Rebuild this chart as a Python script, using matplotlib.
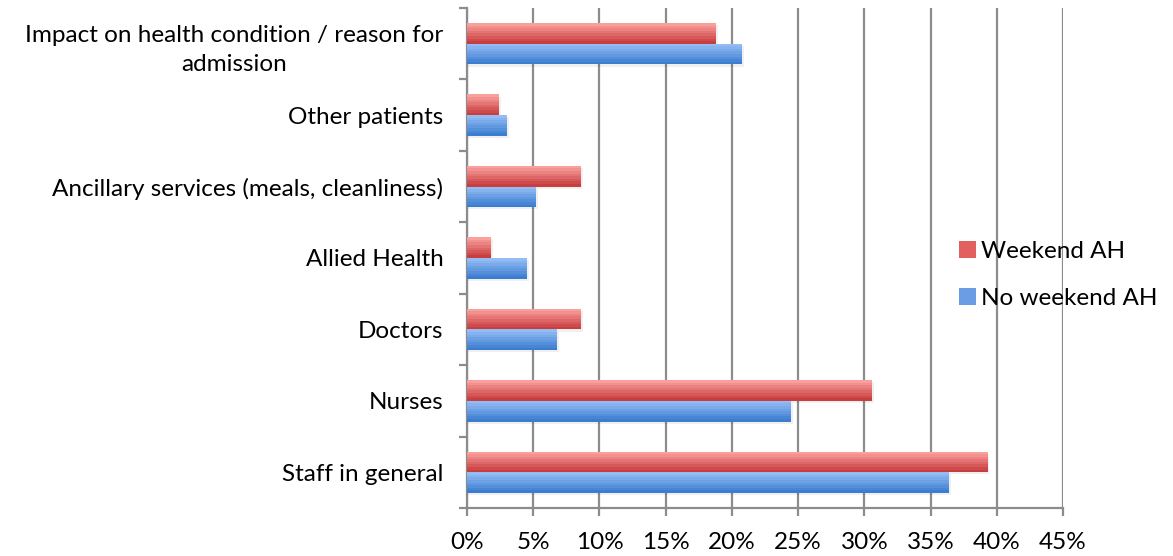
import numpy as np
import matplotlib
matplotlib.use("Agg")
import matplotlib.pyplot as plt
from matplotlib.colors import to_rgb
from matplotlib.patches import Patch
from matplotlib.ticker import MultipleLocator, PercentFormatter

# categories listed bottom to top
categories = ["Staff in general", "Nurses", "Doctors", "Allied Health",
              "Ancillary services (meals, cleanliness)", "Other patients",
              "Impact on health condition / reason for\nadmission"]
weekend_ah = [39.3, 30.6, 8.6, 1.8, 8.6, 2.4, 18.8]
no_weekend_ah = [36.4, 24.5, 6.8, 4.5, 5.2, 3.0, 20.8]
series_names = ["Weekend AH", "No weekend AH"]

red_top, red_bot = "#f99f9c", "#c83d3e"
blue_top, blue_bot = "#93bcf4", "#3b7dd0"

plt.rcParams['font.family'] = ['Lato', 'DejaVu Sans']
fs = 17.5

fig = plt.figure(figsize=(11.73, 5.56), dpi=100)
ax = fig.add_axes([467/1173, 48/556, 596/1173, 500/556])

grid_c = "#8c8c8c"
bar_h = 0.29
nband = 8


def band_bars(y, vals, top, bot):
    # stack thin slices so each bar fades from light (top) to dark (bottom)
    t, b = np.array(to_rgb(top)), np.array(to_rgb(bot))
    step = bar_h / nband
    for k in range(nband):
        frac = k / (nband - 1)
        col = t * (1 - frac) + b * frac
        yc = y + bar_h / 2 - step * (k + 0.5)
        ax.barh(yc, vals, height=step * 1.02, color=col, linewidth=0, zorder=3)
    # faint drop shadow
    ax.barh(y - 0.03, np.array(vals) + 0.15, height=bar_h, color="#000000",
            alpha=0.06, linewidth=0, zorder=2)


y = np.arange(len(categories))
band_bars(y - bar_h / 2, no_weekend_ah, blue_top, blue_bot)
band_bars(y + bar_h / 2, weekend_ah, red_top, red_bot)

ax.set_xlim(0, 45)
ax.set_ylim(-0.5, len(categories) - 0.5)
ax.xaxis.set_major_locator(MultipleLocator(5))
ax.xaxis.set_major_formatter(PercentFormatter(decimals=0))
ax.grid(axis='x', color=grid_c, linewidth=1.6, zorder=1)
ax.set_axisbelow(True)

ax.set_yticks(y)
ax.set_yticklabels(categories, multialignment='center', linespacing=1.5)
ax.set_yticks(np.arange(len(categories) + 1) - 0.5, minor=True)
ax.tick_params(axis='y', which='major', length=0, pad=17, labelsize=fs)
ax.tick_params(axis='y', which='minor', length=6, width=1.6, color=grid_c)
ax.tick_params(axis='x', length=6, width=1.6, color=grid_c, pad=11, labelsize=fs)

for side in ["top", "right"]:
    ax.spines[side].set_visible(False)
for side in ["left", "bottom"]:
    ax.spines[side].set_color(grid_c)
    ax.spines[side].set_linewidth(1.6)

handles = [Patch(facecolor="#e0615f", edgecolor='none'),
           Patch(facecolor="#6a9de3", edgecolor='none')]
fig.legend(handles, series_names, loc='center left',
           bbox_to_anchor=(937/1173, 1 - 275/556), frameon=False,
           fontsize=fs, handlelength=0.7, handleheight=0.7,
           handletextpad=0.2, labelspacing=1.05)

fig.savefig("out.png", dpi=100, facecolor="white")
